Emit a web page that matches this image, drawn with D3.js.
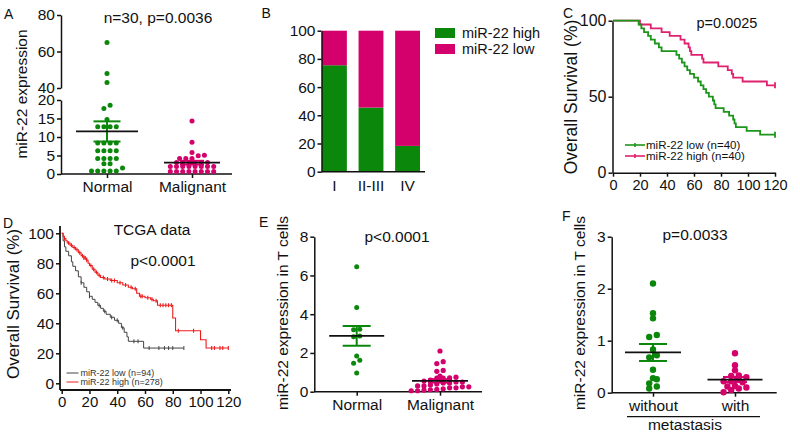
<!DOCTYPE html>
<html>
<head>
<meta charset="utf-8">
<script src="https://cdn.jsdelivr.net/npm/d3@7"></script>
<style>
body { margin: 0; background: #fff; }
svg { display: block; }
</style>
</head>
<body>
<svg id="fig" width="800" height="435"></svg>
<script>
// ---- data ----
// A: miR-22 expression, tissue
var aCats = ["Normal", "Malignant"];
var aNormal = [65, 48, 43, 18.6, 17.7, 14.7, 12.8, 12.8, 12.8, 12.8, 8.4, 8.4, 8.4, 8.4, 6.3, 6.3, 6.3, 6.3,
               4.2, 4.2, 4.2, 4.2, 2.8, 2.8, 1.6, 0.8, 0.8, 0.8, 0.8, 0.8];
var aMalignant = [14.3, 8.6, 5.8, 5.1, 4.9, 4.2, 4.2, 4.2, 3.1, 3.1, 3.1, 3.1, 3.1, 3.1,
                  2.0, 2.0, 2.0, 2.0, 2.0, 2.0, 2.0, 2.0, 0.7, 0.7, 0.7, 0.7, 0.7, 0.7, 0.7, 0.7];
var aLowTicks = [0, 5, 10, 15, 20];
var aHighTicks = [40, 60, 80];

// B: percentage by stage
var bStages = ["I", "II-III", "IV"];
var bHigh = [75.5, 45.5, 18.3];
var bLow = [24.5, 54.5, 81.7];
var bKeys = ["miR-22 high", "miR-22 low"];
var bTicks = [0, 20, 40, 60, 80, 100];

// C: survival, own cohort
var cLowT = [0, 19, 21, 23, 26, 28, 31, 34, 36, 47, 49, 51, 53, 55, 57, 60, 63, 65, 67, 69, 71, 74, 75, 76, 82, 86, 89, 90, 91, 99, 109];
var cLowS = [100, 97.5, 95, 92.5, 90, 87.5, 85, 82.5, 80, 77.5, 75, 72.5, 70, 67.5, 65, 62.5, 60, 57.5, 55, 52.5, 50, 47.5, 45, 42.5, 40, 37.5, 35, 32.5, 30, 27.5, 25];
var cHighT = [0, 20, 28, 36, 42, 50, 53, 56, 57, 58, 66, 67, 78, 85, 88, 89, 96, 114];
var cHighS = [100, 97.5, 95, 92.5, 90, 87.5, 85, 82.5, 80, 77.5, 75, 72.5, 70, 67.5, 65, 62.5, 60, 57.5];
var cEnd = 120;
var cCensor = [120];
var cXTicks = [0, 20, 40, 60, 80, 100, 120];
var cYTicks = [0, 50, 100];

// D: TCGA survival
var dHighT = [0, 1, 2, 3, 4, 6, 8, 10, 12, 14, 16, 18, 19, 20, 22, 24, 26, 28, 31, 35, 40, 44, 48, 51, 54, 56, 60, 64, 66, 69, 80, 82, 100, 104];
var dHighS = [100, 98, 96.5, 95, 93.5, 92, 90.5, 89, 87, 85, 83.5, 82, 80, 78.5, 76, 74, 72, 70.5, 69.5, 68.5, 67, 65.5, 64, 63, 60, 58, 57, 56, 55, 52, 43.5, 35, 29, 23.5];
var dHighEnd = 120;
var dHighCensor = [2, 5, 7, 9, 11, 13, 15, 16, 17, 18, 21, 23, 25, 27, 30, 33, 36, 38, 42, 46, 50, 53, 57, 58, 62, 65, 68, 71, 73, 75, 77, 79, 84, 95, 108, 110, 114, 116, 120];
var dLowT = [0, 1, 2, 3, 5, 7, 8, 10, 12, 14, 16, 18, 20, 22, 24, 26, 28, 30, 32, 35, 38, 41, 43, 45, 47, 48, 59];
var dLowS = [100, 95, 91, 88, 85, 81, 78, 75, 71, 67, 64, 61, 58, 56, 54, 52, 50, 48, 46, 44, 42, 40, 37, 34, 31, 28, 23.5];
var dLowEnd = 88;
var dLowCensor = [14, 20, 27, 31, 36, 40, 44, 52, 55, 63, 70, 74, 77, 80, 88];
var dXTicks = [0, 20, 40, 60, 80, 100, 120];
var dYTicks = [0, 20, 40, 60, 80, 100];

// E: T cells
var eCats = ["Normal", "Malignant"];
var eNormal = [6.45, 4.35, 3.22, 3.2, 2.87, 2.83, 1.84, 1.62, 1.47, 0.97];
var eMalignant = [2.1, 1.55, 1.45, 1.1, 1.05, 0.8, 0.75, 0.72, 0.7, 0.7, 0.6, 0.55, 0.5, 0.5, 0.45,
                  0.45, 0.4, 0.35, 0.3, 0.3, 0.25, 0.25, 0.2, 0.2, 0.15, 0.12, 0.1, 0.08, 0.05, 0.05];
var eTicks = [0, 2, 4, 6, 8];

// F: T cells by metastasis
var fCats = ["without", "with"];
var fWithout = [2.1, 1.53, 1.43, 1.11, 1.07, 0.83, 0.72, 0.68, 0.44, 0.28, 0.26, 0.18, 0.12, 0.08];
var fWith = [0.76, 0.53, 0.43, 0.33, 0.32, 0.3, 0.25, 0.22, 0.22, 0.2, 0.13, 0.12, 0.1, 0.08, 0.05, 0.01];
var fTicks = [0, 1, 2, 3];

// ---- style ----
var GREEN = "#0b870b", PINK = "#d4006b", INK = "#111";
var FONT = "'Liberation Sans', Arial, Helvetica, sans-serif";

var svg = d3.select("#fig").attr("font-family", FONT);
svg.append("rect").attr("width", 800).attr("height", 435).attr("fill", "#fff");

function styleAxis(sel, fs) {
  sel.attr("font-size", fs).attr("font-family", FONT);
  sel.selectAll(".domain, .tick line").attr("stroke", INK).attr("stroke-width", 1.5);
  sel.selectAll(".tick text").attr("fill", INK);
}

function label(g, x, y, s, fs, anchor) {
  return g.append("text").attr("x", x).attr("y", y).attr("font-size", fs)
    .attr("text-anchor", anchor || "middle").attr("fill", INK).text(s);
}

function vlabel(g, x, y, s, fs) {
  return g.append("text").attr("transform", "translate(" + x + "," + y + ") rotate(-90)")
    .attr("text-anchor", "middle").attr("dominant-baseline", "central")
    .attr("font-size", fs).attr("fill", INK).text(s);
}

function hline(g, x1, x2, y, color, w) {
  g.append("line").attr("x1", x1).attr("x2", x2).attr("y1", y).attr("y2", y)
    .attr("stroke", color || INK).attr("stroke-width", w || 1.5);
}

// prism-like scatter: dots with close y share a row and are spread evenly around the centre
function swarm(vals, yf, cx, r, gap) {
  var d = 2 * r + gap, thresh = 2 * r * 0.8;
  var pts = vals.map(function(v) { return { v: v, y: yf(v) }; })
    .sort(function(a, b) { return b.y - a.y; });
  var rows = [], cur = null;
  pts.forEach(function(p) {
    if (!cur || cur.y0 - p.y > thresh) { cur = { y0: p.y, pts: [] }; rows.push(cur); }
    cur.pts.push(p);
  });
  rows.forEach(function(row) {
    var n = row.pts.length;
    row.pts.forEach(function(p, i) { p.x = cx + (i - (n - 1) / 2) * d; });
  });
  return pts;
}

function dotGroup(g, vals, yf, cx, color, r, meanHalf, capHalf) {
  var pts = swarm(vals, yf, cx, r, 1.2);
  g.append("g").selectAll("circle").data(pts).enter().append("circle")
    .attr("cx", function(d) { return d.x; })
    .attr("cy", function(d) { return d.y; })
    .attr("r", r).attr("fill", color);
  var m = d3.mean(vals), sem = d3.deviation(vals) / Math.sqrt(vals.length);
  g.append("line").attr("x1", cx).attr("x2", cx).attr("y1", yf(m + sem)).attr("y2", yf(m - sem))
    .attr("stroke", color).attr("stroke-width", 2);
  hline(g, cx - capHalf, cx + capHalf, yf(m + sem), color, 2);
  hline(g, cx - capHalf, cx + capHalf, yf(m - sem), color, 2);
  hline(g, cx - meanHalf, cx + meanHalf, yf(m), INK, 1.8);
}

function stepPoints(T, S, end) {
  var pts = T.map(function(t, i) { return [t, S[i]]; });
  pts.push([end, S[S.length - 1]]);
  return pts;
}

function survAt(T, S, t) {
  var i = d3.bisectRight(T, t) - 1;
  return S[Math.max(0, i)];
}

function survCurve(g, x, y, T, S, end, censor, color, w, tickH) {
  var line = d3.line().x(function(d) { return x(d[0]); }).y(function(d) { return y(d[1]); })
    .curve(d3.curveStepAfter);
  g.append("path").datum(stepPoints(T, S, end)).attr("d", line)
    .attr("fill", "none").attr("stroke", color).attr("stroke-width", w);
  g.append("g").selectAll("line").data(censor).enter().append("line")
    .attr("x1", function(t) { return x(t); }).attr("x2", function(t) { return x(t); })
    .attr("y1", function(t) { return y(survAt(T, S, t)) - tickH; })
    .attr("y2", function(t) { return y(survAt(T, S, t)) + tickH; })
    .attr("stroke", color).attr("stroke-width", w);
}

// ---- A ----
var gA = svg.append("g");
var yALo = d3.scaleLinear().domain([0, 20]).range([174, 100]);
var yAHi = d3.scaleLinear().domain([40, 80]).range([88, 15]);
function yA(v) { return v > 20 ? yAHi(v) : yALo(v); }
var xA = d3.scalePoint().domain(aCats).range([107, 192]);
gA.append("g").attr("transform", "translate(61,0)")
  .call(d3.axisLeft(yALo).tickValues(aLowTicks).tickSize(4).tickSizeOuter(0).tickPadding(2))
  .call(styleAxis, 15.5);
gA.append("g").attr("transform", "translate(61,0)")
  .call(d3.axisLeft(yAHi).tickValues(aHighTicks).tickSize(4).tickSizeOuter(0).tickPadding(2))
  .call(styleAxis, 15.5);
gA.append("g").attr("transform", "translate(0,174)")
  .call(d3.axisBottom(xA).tickSize(4).tickPadding(3))
  .call(styleAxis, 15.5)
  .select(".domain").remove();
hline(gA, 61, 232, 174);
dotGroup(gA, aNormal, yA, xA("Normal"), GREEN, 2.5, 31, 13.5);
dotGroup(gA, aMalignant, yA, xA("Malignant"), PINK, 2.5, 28, 12);
vlabel(gA, 21, 94, "miR-22 expression", 15.5);
label(gA, 158, 23, "n=30, p=0.0036", 15.5);
label(gA, 4, 19, "A", 14, "start");

// ---- B ----
var gB = svg.append("g");
var xB = d3.scaleBand().domain(bStages).range([322, 420]).paddingInner(0.32).paddingOuter(0);
var yB = d3.scaleLinear().domain([0, 100]).range([171.7, 30.7]);
var bTable = bStages.map(function(s, i) { return { stage: s, "miR-22 high": bHigh[i], "miR-22 low": bLow[i] }; });
var bColor = d3.scaleOrdinal().domain(bKeys).range([GREEN, PINK]);
var bSeries = d3.stack().keys(bKeys)(bTable);
gB.selectAll("g.layer").data(bSeries).enter().append("g").attr("class", "layer")
  .attr("fill", function(d) { return bColor(d.key); })
  .selectAll("rect").data(function(d) { return d; }).enter().append("rect")
  .attr("x", function(d) { return xB(d.data.stage); })
  .attr("width", xB.bandwidth())
  .attr("y", function(d) { return yB(d[1]); })
  .attr("height", function(d) { return yB(d[0]) - yB(d[1]); });
gB.append("g").attr("transform", "translate(321.5,0)")
  .call(d3.axisLeft(yB).tickValues(bTicks).tickSize(4).tickSizeOuter(0).tickPadding(2))
  .call(styleAxis, 15.5);
gB.append("g").attr("transform", "translate(0,171.7)")
  .call(d3.axisBottom(xB).tickSize(0).tickPadding(8))
  .call(styleAxis, 15.5)
  .select(".domain").remove();
hline(gB, 321.5, 425, 171.7);
var bLeg = gB.selectAll("g.leg").data(bKeys).enter().append("g").attr("class", "leg")
  .attr("transform", function(d, i) { return "translate(435," + (28 + i * 16) + ")"; });
bLeg.append("rect").attr("width", 20).attr("height", 10).attr("fill", function(d) { return bColor(d); });
bLeg.append("text").attr("x", 27).attr("y", 5).attr("dominant-baseline", "central")
  .attr("font-size", 14.5).attr("fill", INK).text(function(d) { return d; });
label(gB, 261.5, 18.3, "B", 14, "start");

// ---- C ----
var gC = svg.append("g");
var xC = d3.scaleLinear().domain([0, 120]).range([613, 775]);
var yC = d3.scaleLinear().domain([0, 100]).range([172.7, 20.7]);
gC.append("g").attr("transform", "translate(612.5,0)")
  .call(d3.axisLeft(yC).tickValues(cYTicks).tickSize(4).tickSizeOuter(0).tickPadding(2))
  .call(styleAxis, 16);
gC.append("g").attr("transform", "translate(0,172.7)")
  .call(d3.axisBottom(xC).tickValues(cXTicks).tickSize(4).tickSizeOuter(0).tickPadding(3))
  .call(styleAxis, 14.5);
survCurve(gC, xC, yC, cHighT, cHighS, cEnd, cCensor, "#e0216f", 1.8, 3);
survCurve(gC, xC, yC, cLowT, cLowS, cEnd, cCensor, "#1b961b", 1.8, 3);
var cLegend = [{ name: "miR-22 low (n=40)", color: "#1b961b" }, { name: "miR-22 high (n=40)", color: "#e0216f" }];
var cLeg = gC.selectAll("g.cleg").data(cLegend).enter().append("g").attr("class", "cleg")
  .attr("transform", function(d, i) { return "translate(625," + (145 + i * 11) + ")"; });
cLeg.append("line").attr("x2", 20).attr("stroke", function(d) { return d.color; }).attr("stroke-width", 1.6);
cLeg.append("line").attr("x1", 10).attr("x2", 10).attr("y1", -2).attr("y2", 2)
  .attr("stroke", function(d) { return d.color; }).attr("stroke-width", 1.6);
cLeg.append("text").attr("x", 21).attr("dominant-baseline", "central").attr("font-size", 11.5)
  .attr("fill", INK).text(function(d) { return d.name; });
vlabel(gC, 571, 97, "Overall Survival (%)", 17.5);
label(gC, 727, 28, "p=0.0025", 14.5);
label(gC, 563, 18.3, "C", 14, "start");

// ---- D ----
var gD = svg.append("g");
var xD = d3.scaleLinear().domain([0, 120]).range([61.7, 228.3]);
var yD = d3.scaleLinear().domain([0, 100]).range([383.3, 233.3]);
gD.append("g").attr("transform", "translate(60,0)")
  .call(d3.axisLeft(yD).tickValues(dYTicks).tickSize(4).tickSizeOuter(0).tickPadding(2))
  .call(styleAxis, 15.5)
  .select(".domain").remove();
gD.append("line").attr("x1", 60).attr("x2", 60).attr("y1", 226).attr("y2", 390)
  .attr("stroke", INK).attr("stroke-width", 1.8);
gD.append("g").attr("transform", "translate(0,390)")
  .call(d3.axisBottom(xD).tickValues(dXTicks).tickSize(4).tickSizeOuter(0).tickPadding(2))
  .call(styleAxis, 15)
  .select(".domain").remove();
hline(gD, 60, 231, 390, INK, 1.8);
survCurve(gD, xD, yD, dLowT, dLowS, dLowEnd, dLowCensor, "#444", 1, 2);
survCurve(gD, xD, yD, dHighT, dHighS, dHighEnd, dHighCensor, "#ee1c1c", 1.1, 2);
var dLegend = [{ name: "miR-22 low (n=94)", color: "#444" }, { name: "miR-22 high (n=278)", color: "#ee1c1c" }];
var dLeg = gD.selectAll("g.dleg").data(dLegend).enter().append("g").attr("class", "dleg")
  .attr("transform", function(d, i) { return "translate(66.5," + (373 + i * 9) + ")"; });
dLeg.append("line").attr("x2", 12).attr("stroke", function(d) { return d.color; }).attr("stroke-width", 1);
dLeg.append("text").attr("x", 14).attr("dominant-baseline", "central").attr("font-size", 9)
  .attr("fill", "#333").text(function(d) { return d.name; });
vlabel(gD, 13, 304, "Overall Survival (%)", 17);
label(gD, 152, 235, "TCGA data", 15.5);
label(gD, 163, 266, "p<0.0001", 15.5);
label(gD, 3, 228.3, "D", 14, "start");

// ---- E ----
var gE = svg.append("g");
var xE = d3.scalePoint().domain(eCats).range([356.7, 440]);
var yE = d3.scaleLinear().domain([0, 8]).range([391.7, 236.7]);
gE.append("g").attr("transform", "translate(314.3,0)")
  .call(d3.axisLeft(yE).tickValues(eTicks).tickSize(4).tickSizeOuter(0).tickPadding(2))
  .call(styleAxis, 15.5);
gE.append("g").attr("transform", "translate(0,391.7)")
  .call(d3.axisBottom(xE).tickSize(4).tickPadding(3))
  .call(styleAxis, 15.5)
  .select(".domain").remove();
hline(gE, 314.3, 482, 391.7);
dotGroup(gE, eNormal, yE, xE("Normal"), GREEN, 2.5, 27.5, 14);
dotGroup(gE, eMalignant, yE, xE("Malignant"), PINK, 2.6, 28, 12);
vlabel(gE, 282, 313, "miR-22 expression in T cells", 15.5);
label(gE, 397, 242, "p<0.0001", 15.5);
label(gE, 259, 226.7, "E", 14, "start");

// ---- F ----
var gF = svg.append("g");
var xF = d3.scalePoint().domain(fCats).range([653, 735]);
var yF = d3.scaleLinear().domain([0, 3]).range([392.7, 236.7]);
gF.append("g").attr("transform", "translate(611.7,0)")
  .call(d3.axisLeft(yF).tickValues(fTicks).tickFormat(d3.format("d")).tickSize(4).tickSizeOuter(0).tickPadding(2))
  .call(styleAxis, 15.5);
gF.append("g").attr("transform", "translate(0,392.7)")
  .call(d3.axisBottom(xF).tickSize(4).tickPadding(3))
  .call(styleAxis, 15.5)
  .select(".domain").remove();
hline(gF, 611.7, 776.7, 392.7);
dotGroup(gF, fWithout, yF, xF("without"), GREEN, 3.2, 28, 14);
dotGroup(gF, fWith, yF, xF("with"), PINK, 3.2, 27.5, 12);
hline(gF, 627, 760, 416.7, INK, 1.2);
label(gF, 685, 430, "metastasis", 15.5);
vlabel(gF, 579.5, 313, "miR-22 expression in T cells", 15.5);
label(gF, 695, 240, "p=0.0033", 15.5);
label(gF, 562, 220.7, "F", 14, "start");
</script>
</body>
</html>
